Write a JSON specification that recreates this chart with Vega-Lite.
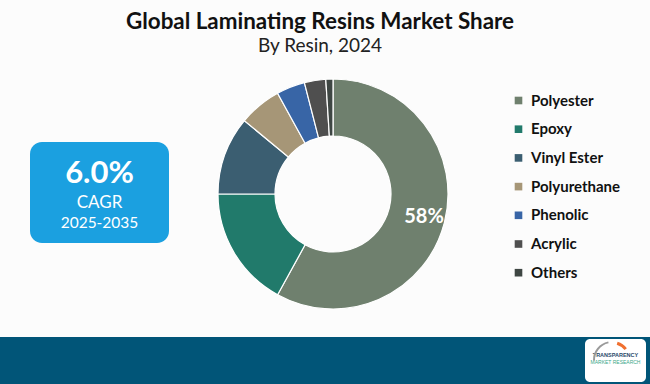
{
  "$schema": "https://vega.github.io/schema/vega-lite/v6.json",
  "width": 650,
  "height": 384,
  "autosize": {"type": "fit", "contains": "padding"},
  "padding": 0,
  "background": "#fcfcfc",
  "config": {"view": {"stroke": null}},
  "datasets": {
    "resins": [
      {"resin": "Polyester", "share": 58, "rank": 1, "label": "58%"},
      {"resin": "Epoxy", "share": 17, "rank": 2, "label": ""},
      {"resin": "Vinyl Ester", "share": 11, "rank": 3, "label": ""},
      {"resin": "Polyurethane", "share": 6, "rank": 4, "label": ""},
      {"resin": "Phenolic", "share": 4, "rank": 5, "label": ""},
      {"resin": "Acrylic", "share": 3, "rank": 6, "label": ""},
      {"resin": "Others", "share": 1, "rank": 7, "label": ""}
    ],
    "one": [{}]
  },
  "layer": [
    {
      "data": {"name": "one"},
      "mark": {"type": "text", "x": 320, "y": 22, "text": "Global Laminating Resins Market Share", "font": "Lato", "fontWeight": "bold", "fontSize": 22.4, "color": "#111111", "align": "center", "baseline": "middle"},
      "encoding": {}
    },
    {
      "data": {"name": "one"},
      "mark": {"type": "text", "x": 320, "y": 46, "text": "By Resin, 2024", "font": "Lato", "fontSize": 19, "color": "#222222", "align": "center", "baseline": "middle"},
      "encoding": {}
    },
    {
      "data": {"name": "resins"},
      "mark": {"type": "arc", "x": 333, "y": 194, "outerRadius": 115, "innerRadius": 58, "stroke": "#ffffff", "strokeWidth": 1.2},
      "encoding": {
        "theta": {"field": "share", "type": "quantitative", "stack": true},
        "order": {"field": "rank", "type": "quantitative"},
        "color": {
          "field": "resin",
          "type": "nominal",
          "scale": {
            "domain": ["Polyester", "Epoxy", "Vinyl Ester", "Polyurethane", "Phenolic", "Acrylic", "Others"],
            "range": ["#6f806e", "#217a6b", "#3b5e71", "#a69677", "#3865a6", "#4f4f4f", "#3e4643"]
          },
          "legend": {
            "orient": "none",
            "legendX": 511,
            "legendY": 93,
            "title": null,
            "symbolType": "square",
            "symbolSize": 58,
            "symbolStrokeWidth": 0,
            "labelFont": "Lato",
            "labelFontWeight": "bold",
            "labelFontSize": 15,
            "labelColor": "#111111",
            "labelOffset": 5,
            "rowPadding": 12.7
          }
        }
      }
    },
    {
      "data": {"name": "resins"},
      "mark": {"type": "text", "x": 333, "y": 194, "radius": 94, "font": "Lato", "fontWeight": "bold", "fontSize": 20, "color": "#ffffff", "align": "center", "baseline": "middle"},
      "encoding": {
        "theta": {"field": "share", "type": "quantitative", "stack": true},
        "order": {"field": "rank", "type": "quantitative"},
        "text": {"field": "label"}
      }
    },
    {
      "data": {"name": "one"},
      "mark": {"type": "rect", "x": 30, "x2": 169, "y": 142, "y2": 243, "cornerRadius": 12, "color": "#1ba0e0"},
      "encoding": {}
    },
    {
      "data": {"name": "one"},
      "mark": {"type": "text", "x": 99.5, "y": 174, "text": "6.0%", "font": "Lato", "fontWeight": "bold", "fontSize": 31, "color": "#ffffff", "align": "center", "baseline": "middle"},
      "encoding": {}
    },
    {
      "data": {"name": "one"},
      "mark": {"type": "text", "x": 99.5, "y": 203, "text": "CAGR", "font": "Lato", "fontSize": 17, "color": "#ffffff", "align": "center", "baseline": "middle"},
      "encoding": {}
    },
    {
      "data": {"name": "one"},
      "mark": {"type": "text", "x": 99.5, "y": 223, "text": "2025-2035", "font": "Lato", "fontSize": 15.5, "color": "#ffffff", "align": "center", "baseline": "middle"},
      "encoding": {}
    },
    {
      "data": {"name": "one"},
      "mark": {"type": "rect", "x": 0, "x2": 650, "y": 337, "y2": 384, "color": "#015578"},
      "encoding": {}
    },
    {
      "data": {"name": "one"},
      "mark": {"type": "rect", "x": 585, "x2": 646, "y": 339, "y2": 382, "cornerRadius": 5, "color": "#ffffff"},
      "encoding": {}
    },
    {
      "data": {"name": "one"},
      "mark": {"type": "text", "x": 615.5, "y": 355, "text": "TRANSPARENCY", "font": "Liberation Sans", "fontWeight": "bold", "fontSize": 5.5, "color": "#2a4a6a", "align": "center", "baseline": "middle"},
      "encoding": {}
    },
    {
      "data": {"name": "one"},
      "mark": {"type": "text", "x": 615.5, "y": 362, "text": "MARKET RESEARCH", "font": "Liberation Sans", "fontSize": 5, "color": "#3aa88a", "align": "center", "baseline": "middle"},
      "encoding": {}
    },
    {
      "data": {"name": "one"},
      "mark": {"type": "arc", "x": 612, "y": 360, "innerRadius": 17, "outerRadius": 19, "theta": -1.6, "theta2": -0.2, "color": "#9a9a9a"},
      "encoding": {}
    },
    {
      "data": {"name": "one"},
      "mark": {"type": "arc", "x": 612, "y": 360, "innerRadius": 16, "outerRadius": 19, "theta": 0.3, "theta2": 0.9, "color": "#f07030"},
      "encoding": {}
    }
  ]
}
